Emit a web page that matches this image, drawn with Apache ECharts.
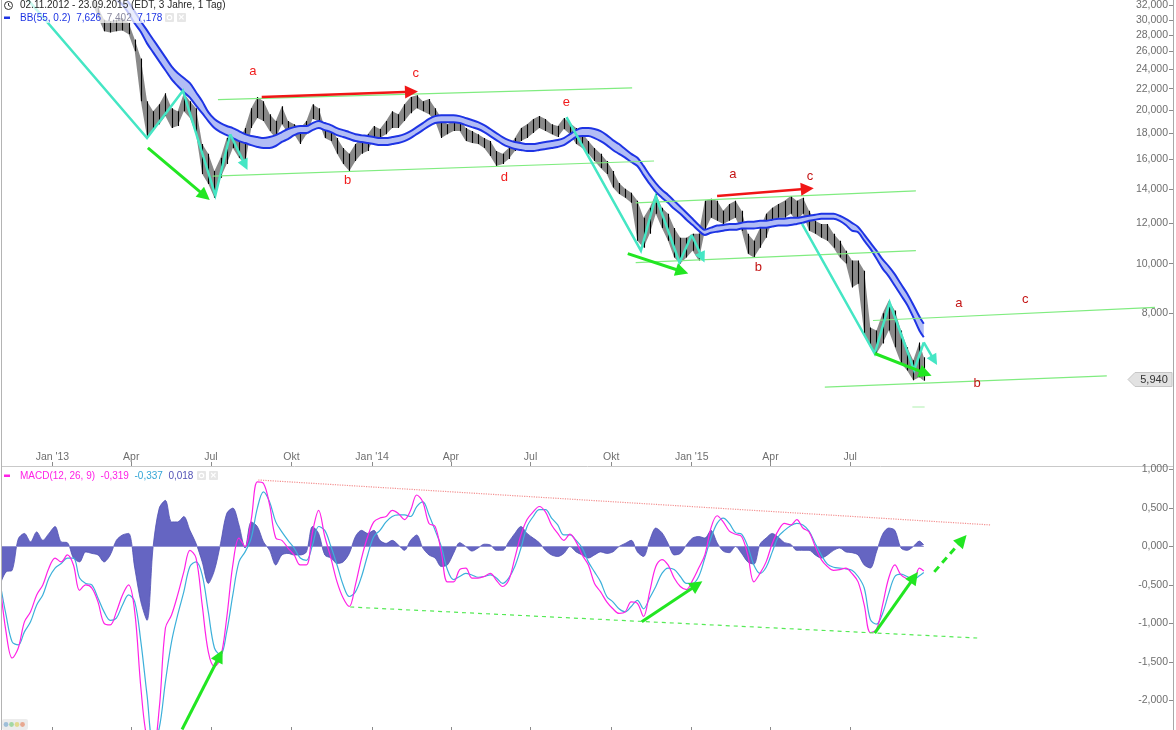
<!DOCTYPE html>
<html><head><meta charset="utf-8"><title>BB + MACD</title>
<script src="https://cdn.jsdelivr.net/npm/echarts@6.0.0/dist/echarts.min.js"></script>
<style>html,body{margin:0;padding:0;background:#fff;overflow:hidden}#chart{width:1176px;height:730px}</style>
</head><body><div id="chart"></div>
<script>
// ================= DATA =================
const weekStart = '2012-11-02';   // weekly samples (Fridays) from here
const lastDate  = '2015-09-23';   // final sample
const lastClose = 5.94;

const priceHigh = [
 38.5,37.0,35.5,35.0,36.0,36.5,37.0,37.2,37.5,37.8,
 37.5,37.0,36.0,35.0,34.5,33.8,31.8,30.0,29.8,30.0,
 30.2,29.6,27.45,25.2,20.79,19.88,20.5,21.55,20.15,19.88,
 21.55,20.79,20.15,17.14,16.4,15.18,16.12,17.61,18.01,17.37,
 18.42,20.15,21.18,20.79,19.61,19.01,20.32,19.01,18.75,18.42,
 19.01,20.5,20.15,18.42,18.34,17.61,16.84,16.4,17.14,17.61,
 17.92,18.59,18.34,19.01,19.88,19.61,20.5,21.18,21.36,20.79,
 21.0,20.15,19.27,18.75,19.01,19.19,18.42,18.17,17.92,17.61,
 17.37,16.61,16.4,16.84,17.61,18.42,18.75,19.19,19.44,19.19,
 18.75,18.59,19.27,18.84,18.42,18.01,17.37,16.84,16.4,15.88,
 15.18,14.38,14.01,13.76,13.27,12.29,12.86,13.69,12.86,12.52,
 11.74,11.24,11.24,11.44,11.44,13.27,13.4,13.27,12.69,13.09,
 13.27,12.69,11.44,11.09,11.74,12.52,12.86,13.09,13.27,13.56,
 13.27,13.46,12.69,12.13,11.96,11.96,11.44,11.09,10.6,10.14,
 10.14,9.69,7.5,7.4,8.0,8.47,8.1,7.4,6.86,6.47,
 7.01,6.56
];
const priceLow = [
 36.0,34.5,33.5,33.6,34.5,35.0,35.5,35.8,36.0,36.2,
 35.8,35.5,34.5,33.0,33.2,32.5,30.4,28.5,28.35,28.5,
 28.6,28.1,26.03,20.79,17.7,18.34,18.75,19.44,18.42,18.59,
 19.88,19.27,17.92,14.98,14.32,13.46,14.72,15.67,16.84,16.12,
 15.67,18.42,19.27,19.01,18.17,17.61,18.75,18.01,17.92,17.14,
 17.92,19.19,19.01,17.61,17.37,16.4,15.67,15.18,15.88,16.4,
 16.61,17.61,17.61,17.92,18.42,18.42,19.01,19.69,20.15,19.88,
 19.61,19.01,17.61,17.92,18.17,18.17,17.37,17.22,17.14,16.84,
 16.25,15.53,15.67,16.03,16.61,17.37,17.61,18.01,18.42,18.17,
 17.92,17.69,18.34,17.92,17.14,16.84,16.4,15.88,15.38,14.98,
 14.1,13.69,13.46,13.15,11.09,10.74,11.44,12.52,11.74,11.09,
 10.28,10.01,10.28,10.6,10.14,11.6,12.29,12.13,11.96,12.13,
 12.29,11.6,10.46,10.28,10.74,11.24,12.13,12.29,12.29,12.52,
 12.13,12.52,11.6,11.44,11.24,11.09,10.74,10.28,10.01,8.98,
 9.13,7.3,6.86,6.67,6.98,7.4,6.86,6.38,6.18,5.91,
 5.99,5.9
];
const bbUpper = [
 null,null,null,null,null,null,null,null,null,null,
 null,null,null,null,null,null,null,36.0,35.2,34.5,
 33.9,32.45,31.14,29.78,28.6,27.46,26.38,25.33,24.33,23.6,
 23.08,22.55,21.65,20.79,19.79,19.19,18.84,18.59,18.42,18.17,
 17.92,17.77,17.69,17.61,17.69,17.84,18.09,18.34,18.5,18.59,
 18.59,18.84,19.01,18.84,18.67,18.42,18.25,18.09,17.92,17.84,
 17.77,17.69,17.61,17.61,17.69,17.77,17.92,18.17,18.5,18.84,
 19.19,19.44,19.52,19.52,19.52,19.44,19.27,19.1,18.92,18.67,
 18.34,18.01,17.69,17.45,17.3,17.22,17.14,17.14,17.22,17.3,
 17.37,17.45,17.61,17.92,18.25,18.42,18.42,18.34,18.17,17.84,
 17.45,17.14,16.76,16.4,16.12,15.53,14.9,14.38,13.95,13.63,
 13.27,12.92,12.58,12.24,11.9,11.65,11.76,11.87,11.9,11.96,
 11.96,12.02,12.08,12.08,12.13,12.13,12.19,12.24,12.24,12.29,
 12.29,12.35,12.41,12.46,12.52,12.52,12.52,12.41,12.24,12.02,
 11.8,11.4,10.99,10.6,10.19,9.88,9.53,9.12,8.74,8.31,
 7.88,7.626
];
const bbLower = [
 null,null,null,null,null,null,null,null,null,null,
 null,null,null,null,null,null,null,34.2,33.5,32.8,
 32.1,30.9,29.5,28.4,26.98,25.91,24.88,23.9,22.96,22.26,
 21.65,21.13,20.38,19.7,19.01,18.42,18.09,17.84,17.61,17.37,
 17.22,17.06,16.92,16.84,16.84,16.99,17.3,17.53,17.84,18.01,
 18.01,18.25,18.42,18.25,18.09,17.84,17.69,17.53,17.37,17.3,
 17.22,17.14,17.06,17.06,17.14,17.22,17.37,17.61,17.92,18.25,
 18.59,18.84,18.92,18.92,18.92,18.84,18.67,18.5,18.34,18.09,
 17.77,17.45,17.14,16.92,16.76,16.69,16.61,16.61,16.69,16.76,
 16.84,16.92,17.06,17.37,17.69,17.77,17.77,17.61,17.37,17.06,
 16.69,16.4,16.12,15.81,15.53,14.9,14.32,13.82,13.46,13.15,
 12.8,12.52,12.19,11.9,11.6,11.38,11.49,11.55,11.6,11.65,
 11.65,11.71,11.71,11.71,11.76,11.76,11.82,11.87,11.87,11.9,
 11.96,12.02,12.13,12.19,12.24,12.24,12.24,12.13,11.9,11.6,
 11.52,11.09,10.7,10.23,9.78,9.44,9.05,8.67,8.31,7.86,
 7.4,7.178
];
const macdLine = [
 -0.46,-1.11,-1.45,-1.32,-0.98,-0.85,-0.63,-0.50,-0.28,-0.15,
 -0.20,-0.11,-0.24,-0.57,-0.50,-0.54,-0.72,-1.00,-1.02,-0.85,
 -0.63,-0.50,-0.85,-1.84,-2.50,-2.60,-2.10,-1.06,-0.89,-0.63,
 -0.33,-0.05,-0.15,-0.76,-1.37,-1.56,-1.45,-0.93,-0.24,0.11,
 0.00,0.35,0.84,0.82,0.54,0.11,0.08,-0.02,-0.11,-0.24,
 -0.24,0.19,0.47,0.13,-0.15,-0.46,-0.67,-0.78,-0.50,-0.15,
 0.13,0.32,0.37,0.39,0.47,0.43,0.35,0.47,0.67,0.58,
 0.30,0.26,-0.07,-0.46,-0.46,-0.30,-0.28,-0.41,-0.41,-0.39,
 -0.35,-0.44,-0.52,-0.44,-0.15,0.15,0.35,0.45,0.52,0.45,
 0.28,0.17,0.08,0.16,0.06,-0.11,-0.24,-0.48,-0.59,-0.72,
 -0.81,-0.87,-0.85,-0.72,-0.74,-0.91,-0.59,-0.26,-0.17,-0.24,
 -0.41,-0.52,-0.56,-0.44,-0.28,-0.11,0.24,0.40,0.32,0.20,
 0.16,0.13,-0.11,-0.46,-0.35,-0.20,0.04,0.21,0.30,0.28,
 0.35,0.24,0.19,0.00,-0.17,-0.26,-0.31,-0.30,-0.28,-0.35,
 -0.46,-0.76,-1.12,-1.08,-0.76,-0.41,-0.24,-0.37,-0.42,-0.45,
 -0.28,-0.319
];
const signalLine = [
 -0.46,-0.89,-1.24,-1.28,-1.11,-0.98,-0.76,-0.63,-0.41,-0.28,
 -0.22,-0.15,-0.15,-0.41,-0.48,-0.50,-0.67,-0.85,-0.96,-0.93,
 -0.76,-0.63,-0.72,-1.24,-1.93,-2.55,-2.36,-1.76,-1.24,-0.89,
 -0.59,-0.26,-0.20,-0.37,-0.85,-1.32,-1.41,-1.11,-0.63,-0.20,
 -0.07,0.11,0.50,0.71,0.58,0.32,0.19,0.08,-0.02,-0.15,
 -0.18,0.02,0.26,0.21,0.00,-0.24,-0.50,-0.65,-0.59,-0.39,
 -0.11,0.13,0.21,0.32,0.39,0.41,0.41,0.39,0.52,0.58,
 0.41,0.21,0.00,-0.30,-0.43,-0.39,-0.35,-0.37,-0.40,-0.39,
 -0.37,-0.41,-0.48,-0.41,-0.26,-0.02,0.26,0.39,0.48,0.48,
 0.37,0.28,0.15,0.15,0.08,-0.02,-0.20,-0.33,-0.46,-0.65,
 -0.72,-0.81,-0.85,-0.78,-0.70,-0.81,-0.67,-0.52,-0.35,-0.28,
 -0.30,-0.39,-0.48,-0.48,-0.39,-0.15,0.11,0.30,0.37,0.30,
 0.18,0.16,0.00,-0.24,-0.35,-0.27,-0.07,0.13,0.21,0.27,
 0.30,0.28,0.20,0.04,-0.11,-0.23,-0.27,-0.28,-0.29,-0.31,
 -0.39,-0.54,-0.95,-1.01,-0.87,-0.61,-0.39,-0.36,-0.39,-0.43,
 -0.38,-0.337
];
const histogram = [
 -0.50,-0.33,-0.31,0.10,0.17,0.06,0.19,0.08,0.17,0.26,
 0.06,0.05,-0.15,-0.20,-0.07,-0.09,-0.11,-0.20,-0.11,0.08,
 0.15,0.17,-0.28,-0.72,-0.96,0.00,0.50,0.60,0.32,0.32,
 0.39,0.21,0.04,-0.20,-0.48,-0.31,0.04,0.43,0.50,0.28,
 -0.02,0.32,0.26,0.06,-0.05,-0.24,-0.11,-0.09,-0.11,-0.11,
 -0.07,0.26,0.17,-0.11,-0.15,-0.22,-0.20,-0.09,0.13,0.21,
 0.17,0.21,0.08,0.04,0.08,0.02,-0.05,0.08,0.15,-0.02,
 -0.11,-0.15,-0.26,-0.24,-0.09,0.05,0.00,-0.06,-0.02,0.03,
 0.02,-0.05,-0.05,0.06,0.17,0.26,0.17,0.11,0.05,-0.05,
 -0.11,-0.13,-0.09,0.00,-0.07,-0.11,-0.15,-0.11,-0.07,-0.09,
 -0.07,0.00,0.04,0.08,-0.07,-0.13,0.08,0.24,0.18,0.04,
 -0.11,-0.09,0.02,0.11,0.13,0.11,0.21,0.05,-0.06,-0.08,
 0.00,-0.09,-0.20,-0.23,0.03,0.11,0.17,0.12,0.05,0.03,
 -0.05,-0.05,-0.05,-0.11,-0.15,-0.11,-0.05,-0.02,-0.07,-0.08,
 -0.11,-0.24,-0.28,-0.07,0.16,0.24,0.21,-0.02,-0.05,0.00,
 0.07,0.02
];

// axis ticks
const priceTicks = [8,10,12,14,16,18,20,22,24,26,28,30,32];
const macdTicks = [1,0.5,0,-0.5,-1,-1.5,-2];
const xTickDates = ['2013-01-01','2013-04-01','2013-07-01','2013-10-01','2014-01-01','2014-04-01','2014-07-01','2014-10-01','2015-01-01','2015-04-01','2015-07-01'];
const xTickLabels = ["Jan '13",'Apr','Jul','Okt',"Jan '14",'Apr','Jul','Okt',"Jan '15",'Apr','Jul'];

// hand-drawn annotations (date, price)
const cyanWaveA = [['2012-12-03',33.0],['2013-04-19',17.61],['2013-05-30',21.8],['2013-07-06',13.6],['2013-07-23',17.92],['2013-08-09',15.6]];
const cyanWaveB = [['2014-08-11',19.35],['2014-11-04',10.6],['2014-11-21',13.56],['2014-12-18',10.05],['2015-01-01',11.38],['2015-01-13',10.28]];
const cyanWaveC = [['2015-05-07',11.96],['2015-07-29',6.67],['2015-08-15',8.39],['2015-09-12',6.185],['2015-09-23',7.01],['2015-10-05',6.47]];
const greenArrows = [
 [['2013-04-20',16.84],['2013-06-24',13.57]],
 [['2014-10-20',10.46],['2014-12-21',9.65]],
 [['2015-07-29',6.67],['2015-09-25',6.10]]
];
const redArrows = [
 [['2013-08-28',21.18],['2014-02-15',21.70]],
 [['2015-01-30',13.56],['2015-05-13',14.01]]
];
const channelLines = [
 [['2013-07-09',20.93],['2014-10-25',22.08]],
 [['2013-07-03',14.84],['2014-11-19',15.88]],
 [['2014-10-29',13.15],['2015-09-14',13.88]],
 [['2014-10-29',10.05],['2015-09-14',10.60]],
 [['2015-07-27',7.74],['2016-06-13',8.21]],
 [['2015-06-02',5.735],['2016-04-19',6.03]]
];
const faintLine = [['2015-09-10',5.24],['2015-09-24',5.24]];
const labelsBright = [['a','2013-08-18',23.79],['c','2014-02-20',23.55],['b','2013-12-04',14.52],['d','2014-06-01',14.78],['e','2014-08-11',20.70]];
const labelsDark = [['a','2015-02-17',14.98],['c','2015-05-16',14.84],['b','2015-03-18',9.82],['a','2015-11-02',8.36],['c','2016-01-17',8.51],['b','2015-11-23',5.84]];
// MACD annotations (date, value)
const macdTopLine = [['2013-08-24',0.865],['2015-12-09',0.28]];
const macdBottomLine = [['2013-12-07',-0.787],['2015-11-23',-1.19]];
const macdArrows = [
 [['2013-05-29',-2.38],['2013-07-11',-1.42]],
 [['2014-11-05',-0.98],['2015-01-07',-0.50]],
 [['2015-07-29',-1.125],['2015-09-12',-0.40]]
];
const macdDashedArrow = [['2015-10-05',-0.33],['2015-11-06',0.085]];

// ================= BUILD =================
const DAY = 864e5;
const T = s => Date.parse(s);
const L = Math.log;
const FF = '"Liberation Sans", Arial, sans-serif';
const t0 = T(weekStart);
const times = priceHigh.map((_, i) => i === priceHigh.length - 1 ? T(lastDate) : t0 + i * 7 * DAY);

// layout (pixel scale of the reference)
const W = 1176, H = 730, gLeft = 2, gRight = 3;
const pxPerDay = 0.8757;
const xMin = Date.UTC(2013, 0, 1) - 57.6 * DAY;
const xMax = xMin + (W - gLeft - gRight) / pxPerDay * DAY;
const topH = 445;
const lnMax = L(8) + 312.7 / 222.7;
const lnMin = lnMax - topH / 222.7;
const macdTop = 466;
const macdMax = (546.5 - macdTop) / 76.9;
const macdMin = macdMax - (H - macdTop) / 76.9;

const xTickT = xTickDates.map(T);
const fmtNum = v => (Math.round(v * 1000) / 1000).toFixed(3).replace('.', ',');

const priceCoords = arr => arr.map(p => [T(p[0]), L(p[1])]);
const valCoords = arr => arr.map(p => [T(p[0]), p[1]]);

const C_CYAN = '#45e6c4', C_GREEN = '#22e622', C_CHAN = '#80ec80', C_RED = '#f01616';
const LEG = '10px ' + FF;

function linesSeries(coordsList, opts) {
  return Object.assign({
    type: 'lines', coordinateSystem: 'cartesian2d', xAxisIndex: 0, yAxisIndex: 0,
    polyline: false, silent: true, z: 6, animation: false,
    symbol: ['none', 'none'], symbolSize: 12,
    data: coordsList.map(c => ({ coords: c }))
  }, opts);
}

const series = [];
// price range envelope (weekly high/low)
series.push({
  type: 'custom', xAxisIndex: 0, yAxisIndex: 0, clip: true, z: 1, silent: true,
  data: [[times[0], L(priceHigh[0])]],
  renderItem: (p, api) => {
    const pts = [];
    times.forEach((t, i) => pts.push(api.coord([t, L(priceHigh[i])])));
    for (let i = times.length - 1; i >= 0; i--) pts.push(api.coord([times[i], L(priceLow[i])]));
    return { type: 'polygon', shape: { points: pts }, style: { fill: 'rgba(40,40,40,0.55)' } };
  }
});
// price bars
series.push({
  type: 'custom', xAxisIndex: 0, yAxisIndex: 0, clip: true, z: 2, silent: true,
  data: times.map((t, i) => [t, L(priceLow[i]), L(priceHigh[i])]),
  renderItem: (p, api) => {
    const hi = api.coord([api.value(0), api.value(2)]);
    const lo = api.coord([api.value(0), api.value(1)]);
    const x = Math.round(hi[0]) + 0.5;
    return { type: 'line', shape: { x1: x, y1: hi[1], x2: x, y2: lo[1] }, style: { stroke: '#000', lineWidth: 1.1 } };
  }
});
// Bollinger fill
const bbIdx = times.map((t, i) => i).filter(i => bbUpper[i] != null);
series.push({
  type: 'custom', xAxisIndex: 0, yAxisIndex: 0, clip: true, z: 3, silent: true,
  data: [[times[bbIdx[0]], L(bbUpper[bbIdx[0]])]],
  renderItem: (p, api) => {
    const pts = [];
    bbIdx.forEach(i => pts.push(api.coord([times[i], L(bbUpper[i])])));
    bbIdx.slice().reverse().forEach(i => pts.push(api.coord([times[i], L(bbLower[i])])));
    return { type: 'polygon', shape: { points: pts }, style: { fill: '#b2bdf5' } };
  }
});
series.push({ type: 'line', xAxisIndex: 0, yAxisIndex: 0, z: 4, symbol: 'none', smooth: 0.3, silent: true,
  data: bbIdx.map(i => [times[i], L(bbUpper[i])]), lineStyle: { color: '#1e34e4', width: 2 } });
series.push({ type: 'line', xAxisIndex: 0, yAxisIndex: 0, z: 4, symbol: 'none', smooth: 0.3, silent: true,
  data: bbIdx.map(i => [times[i], L(bbLower[i])]), lineStyle: { color: '#1e34e4', width: 2 } });

// channel lines
series.push(linesSeries(channelLines.map(priceCoords), { lineStyle: { color: C_CHAN, width: 1.2, opacity: 1 }, z: 5 }));
series.push(linesSeries([priceCoords(faintLine)], { lineStyle: { color: '#c8f5c8', width: 1.5, opacity: 1 }, z: 5 }));
// cyan waves
[cyanWaveA, cyanWaveB, cyanWaveC].forEach(w => {
  const c = priceCoords(w);
  series.push(linesSeries([c.slice(0, c.length - 1)], { polyline: true, lineStyle: { color: C_CYAN, width: 2.5, opacity: 1 } }));
  series.push(linesSeries([c.slice(c.length - 2)], { symbol: ['none', 'triangle'], symbolSize: 11, lineStyle: { color: C_CYAN, width: 2.5, opacity: 1 } }));
});
// green arrows
series.push(linesSeries(greenArrows.map(priceCoords), { symbol: ['none', 'triangle'], symbolSize: 13, lineStyle: { color: C_GREEN, width: 3, opacity: 1 }, z: 7 }));
// red arrows
series.push(linesSeries(redArrows.map(priceCoords), { symbol: ['none', 'triangle'], symbolSize: 13, lineStyle: { color: C_RED, width: 2.5, opacity: 1 }, z: 7 }));
// wave letters
function letterSeries(list, color) {
  return {
    type: 'custom', xAxisIndex: 0, yAxisIndex: 0, z: 8, silent: true,
    data: list.map(l => [T(l[1]), L(l[2])]),
    renderItem: (p, api) => {
      const c = api.coord([api.value(0), api.value(1)]);
      return { type: 'text', x: c[0], y: c[1], style: { text: list[p.dataIndex][0], fill: color, font: '13px ' + FF, align: 'center', verticalAlign: 'middle' } };
    }
  };
}
series.push(letterSeries(labelsBright, '#f01c1c'));
series.push(letterSeries(labelsDark, '#c41414'));
// last price tag
series.push({
  type: 'custom', xAxisIndex: 0, yAxisIndex: 0, z: 20, silent: true,
  data: [[T(lastDate), L(lastClose)]],
  renderItem: (p, api) => {
    const c = api.coord([api.value(0), api.value(1)]);
    const r = p.coordSys.x + p.coordSys.width;
    const y = Math.round(c[1]) + 0.5;
    return { type: 'group', children: [
      { type: 'polygon', shape: { points: [[r - 45, y], [r - 38, y - 7], [r - 1, y - 7], [r - 1, y + 7], [r - 38, y + 7]] }, style: { fill: '#e2e2e2', stroke: '#c6c6c6', lineWidth: 1 } },
      { type: 'text', x: r - 19, y: y, style: { text: fmtNum(lastClose), fill: '#333', font: '11px ' + FF, align: 'center', verticalAlign: 'middle' } }
    ] };
  }
});

// ---- MACD panel ----
series.push({ type: 'line', xAxisIndex: 1, yAxisIndex: 1, z: 2, symbol: 'none', smooth: 0.3, silent: true,
  data: times.map((t, i) => [t, histogram[i]]),
  lineStyle: { color: '#5252b4', width: 0.8 },
  areaStyle: { color: '#6565c2', opacity: 1, origin: 0 } });
series.push({ type: 'line', xAxisIndex: 1, yAxisIndex: 1, z: 3, symbol: 'none', silent: true,
  data: [[times[0], 0], [times[times.length - 1], 0]], lineStyle: { color: '#9090d2', width: 1 } });
series.push({ type: 'line', xAxisIndex: 1, yAxisIndex: 1, z: 4, symbol: 'none', smooth: 0.35, silent: true,
  data: times.map((t, i) => [t, signalLine[i]]), lineStyle: { color: '#3cb0da', width: 1.2 } });
series.push({ type: 'line', xAxisIndex: 1, yAxisIndex: 1, z: 5, symbol: 'none', smooth: 0.35, silent: true,
  data: times.map((t, i) => [t, macdLine[i]]), lineStyle: { color: '#ff22e6', width: 1.2 } });
series.push(linesSeries([valCoords(macdTopLine)], { xAxisIndex: 1, yAxisIndex: 1, lineStyle: { color: '#f39090', width: 1.2, type: 'dotted', opacity: 1 } }));
series.push(linesSeries([valCoords(macdBottomLine)], { xAxisIndex: 1, yAxisIndex: 1, lineStyle: { color: '#55ea55', width: 1.2, type: [4, 4], opacity: 1 } }));
series.push(linesSeries(macdArrows.map(valCoords), { xAxisIndex: 1, yAxisIndex: 1, symbol: ['none', 'triangle'], symbolSize: 13, lineStyle: { color: C_GREEN, width: 3, opacity: 1 }, z: 7 }));
series.push(linesSeries([valCoords(macdDashedArrow)], { xAxisIndex: 1, yAxisIndex: 1, symbol: ['none', 'triangle'], symbolSize: 13, lineStyle: { color: C_GREEN, width: 3, type: [7, 5], opacity: 1 }, z: 7 }));

const axisText = { color: '#6e6e6e', fontSize: 10.5, fontFamily: FF };
const option = {
  animation: false,
  backgroundColor: '#ffffff',
  grid: [
    { left: gLeft, right: gRight, top: 0, height: topH },
    { left: gLeft, right: gRight, top: macdTop, bottom: 0 }
  ],
  xAxis: [
    { gridIndex: 0, type: 'value', min: xMin, max: xMax, show: false, axisLine: { onZero: false }, splitLine: { show: false } },
    { gridIndex: 1, type: 'value', min: xMin, max: xMax, position: 'top',
      axisLine: { show: true, onZero: false, lineStyle: { color: '#c9c9c9', width: 1 } },
      axisTick: { show: true, length: 4, lineStyle: { color: '#8a8a8a' }, customValues: xTickT },
      axisLabel: Object.assign({ show: true, customValues: xTickT, margin: 3,
        formatter: v => { const i = xTickT.findIndex(t => Math.abs(t - v) < DAY); return i >= 0 ? xTickLabels[i] : ''; } }, axisText),
      splitLine: { show: false } },
    { gridIndex: 1, type: 'value', min: xMin, max: xMax, position: 'bottom',
      axisLine: { show: false, onZero: false },
      axisTick: { show: true, inside: true, length: 3, lineStyle: { color: '#8a8a8a' }, customValues: xTickT },
      axisLabel: { show: false }, splitLine: { show: false } }
  ],
  yAxis: [
    { gridIndex: 0, type: 'value', min: lnMin, max: lnMax, position: 'right',
      axisLine: { show: false, onZero: false },
      axisTick: { show: true, inside: true, length: 4, lineStyle: { color: '#8a8a8a' }, customValues: priceTicks.map(L) },
      axisLabel: Object.assign({ inside: true, margin: 5, customValues: priceTicks.map(L),
        formatter: v => fmtNum(Math.round(Math.exp(v))) }, axisText),
      splitLine: { show: false } },
    { gridIndex: 1, type: 'value', min: macdMin, max: macdMax, position: 'right',
      axisLine: { show: false, onZero: false },
      axisTick: { show: true, inside: true, length: 4, lineStyle: { color: '#8a8a8a' }, customValues: macdTicks },
      axisLabel: Object.assign({ inside: true, margin: 5, customValues: macdTicks,
        formatter: v => fmtNum(v) }, axisText),
      splitLine: { show: false } }
  ],
  series: series,
  graphic: [
    // frame lines
    { type: 'line', silent: true, z: 50, shape: { x1: 1.5, y1: 0, x2: 1.5, y2: H }, style: { stroke: '#b4b4b4', lineWidth: 1 } },
    { type: 'line', silent: true, z: 50, shape: { x1: W - gRight + 0.5, y1: 0, x2: W - gRight + 0.5, y2: H }, style: { stroke: '#a8a8a8', lineWidth: 1 } },
    // header
    { type: 'rect', silent: true, z: 40, shape: { x: 2, y: 0, width: 188, height: 23 }, style: { fill: 'rgba(255,255,255,0.72)' } },
    { type: 'circle', silent: true, z: 41, shape: { cx: 8.5, cy: 5.5, r: 4 }, style: { fill: 'none', stroke: '#333', lineWidth: 1 } },
    { type: 'polyline', silent: true, z: 41, shape: { points: [[8.5, 3], [8.5, 5.5], [10.5, 6.5]] }, style: { fill: 'none', stroke: '#333', lineWidth: 1 } },
    { type: 'text', silent: true, z: 41, x: 20, y: 5.5, style: { text: '02.11.2012 - 23.09.2015 (EDT, 3 Jahre, 1 Tag)', fill: '#262626', font: LEG, verticalAlign: 'middle' } },
    { type: 'rect', silent: true, z: 41, shape: { x: 4, y: 16.5, width: 6, height: 2.5 }, style: { fill: '#1e34e4' } },
    { type: 'text', silent: true, z: 41, x: 20, y: 18, style: { text: '{b|BB(55, 0.2)}  {b|7,626}  {g|7,402}  {b|7,178}', font: LEG, verticalAlign: 'middle',
      rich: { b: { fill: '#1e34e4', font: LEG }, g: { fill: '#8a8aa0', font: LEG } } } },
    { type: 'rect', silent: true, z: 41, shape: { x: 165, y: 13, width: 9, height: 9, r: 1 }, style: { fill: '#e6e6e6' } },
    { type: 'circle', silent: true, z: 42, shape: { cx: 169.5, cy: 17.5, r: 2.2 }, style: { fill: 'none', stroke: '#fff', lineWidth: 1.2 } },
    { type: 'rect', silent: true, z: 41, shape: { x: 177, y: 13, width: 9, height: 9, r: 1 }, style: { fill: '#e6e6e6' } },
    { type: 'text', silent: true, z: 42, x: 181.5, y: 17.8, style: { text: '✕', fill: '#fff', font: 'bold 8px ' + FF, align: 'center', verticalAlign: 'middle' } },
    // MACD legend
    { type: 'rect', silent: true, z: 41, shape: { x: 4, y: 474.5, width: 6, height: 2.5 }, style: { fill: '#ff22e6' } },
    { type: 'text', silent: true, z: 41, x: 20, y: 476, style: { text: '{m|MACD(12, 26, 9)}  {m|-0,319}  {s|-0,337}  {h|0,018}', font: LEG, verticalAlign: 'middle',
      rich: { m: { fill: '#ff22e6', font: LEG }, s: { fill: '#34a6d6', font: LEG }, h: { fill: '#5252b6', font: LEG } } } },
    { type: 'rect', silent: true, z: 41, shape: { x: 197, y: 471, width: 9, height: 9, r: 1 }, style: { fill: '#e6e6e6' } },
    { type: 'circle', silent: true, z: 42, shape: { cx: 201.5, cy: 475.5, r: 2.2 }, style: { fill: 'none', stroke: '#fff', lineWidth: 1.2 } },
    { type: 'rect', silent: true, z: 41, shape: { x: 209, y: 471, width: 9, height: 9, r: 1 }, style: { fill: '#e6e6e6' } },
    { type: 'text', silent: true, z: 42, x: 213.5, y: 475.8, style: { text: '✕', fill: '#fff', font: 'bold 8px ' + FF, align: 'center', verticalAlign: 'middle' } },
    // bottom-left widget
    { type: 'rect', silent: true, z: 41, shape: { x: 2, y: 719, width: 26, height: 11, r: 2 }, style: { fill: '#ececec' } },
    { type: 'circle', silent: true, z: 42, shape: { cx: 6, cy: 724.5, r: 2.4 }, style: { fill: '#9fbfd9' } },
    { type: 'circle', silent: true, z: 42, shape: { cx: 11.5, cy: 724.5, r: 2.4 }, style: { fill: '#a3d7a3' } },
    { type: 'circle', silent: true, z: 42, shape: { cx: 17, cy: 724.5, r: 2.4 }, style: { fill: '#e2d98f' } },
    { type: 'circle', silent: true, z: 42, shape: { cx: 22.5, cy: 724.5, r: 2.4 }, style: { fill: '#e8a890' } }
  ]
};

const chart = echarts.init(document.getElementById('chart'), null, { renderer: 'canvas', width: W, height: H });
chart.setOption(option);
</script>
</body></html>
